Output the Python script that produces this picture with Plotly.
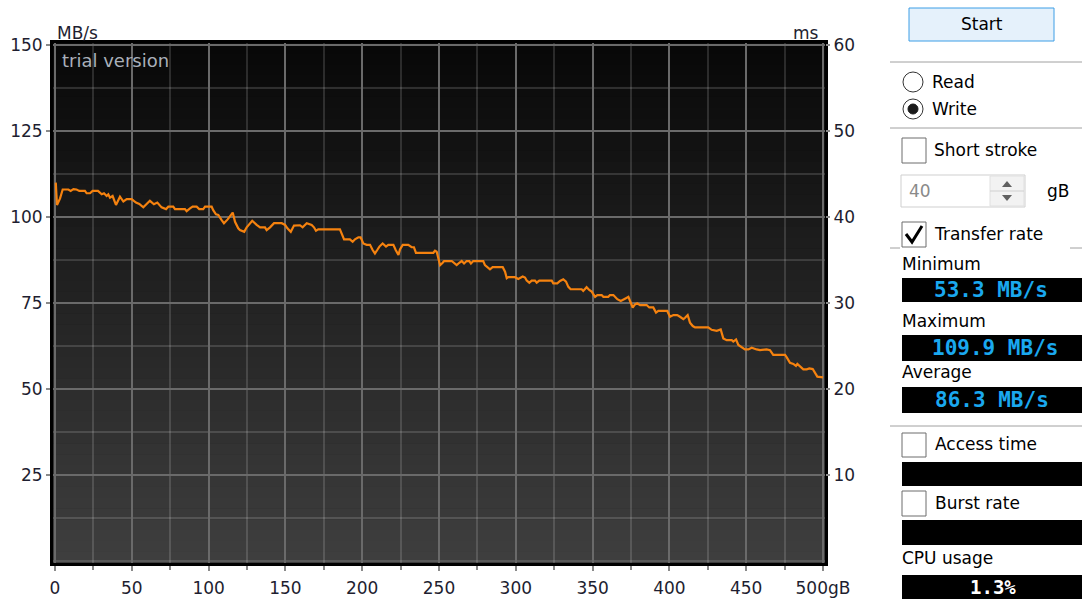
import plotly.graph_objects as go

# ---------------- data ----------------
gb = [
    0.5, 1.3, 3.3, 5.0, 8.7, 10.2, 12.0, 14.0, 15.8, 19.5,
    20.6, 22.8, 24.5, 28.0, 30.4, 31.9, 33.6, 34.7, 35.8, 37.5,
    39.7, 42.3, 44.5, 46.7, 49.9, 52.7, 54.9, 57.5, 61.8, 64.4,
    66.6, 69.4, 72.3, 73.8, 77.0, 78.1, 84.6, 85.7, 87.9, 89.6,
    92.2, 93.9, 96.5, 97.7, 102.0, 103.0, 104.8, 106.3, 108.5, 110.0,
    112.4, 113.9, 115.7, 117.2, 119.3, 120.4, 123.2, 124.8, 128.4, 131.3,
    133.5, 136.7, 137.8, 140.0, 142.6, 147.6, 149.8, 151.3, 153.5, 155.6,
    159.5, 161.2, 163.9, 167.1, 168.6, 169.9, 171.4, 185.5, 186.6, 188.2,
    192.0, 193.8, 195.3, 197.5, 199.0, 200.7, 202.9, 205.1, 206.8, 208.3,
    209.8, 211.2, 213.3, 215.5, 217.0, 220.3, 221.8, 223.6, 224.6, 226.4,
    230.0, 232.2, 233.7, 235.0, 246.3, 247.4, 248.5, 249.6, 250.7, 252.4,
    253.3, 258.3, 259.8, 261.5, 263.2, 264.8, 266.3, 268.0, 269.7, 270.8,
    272.3, 278.8, 279.9, 281.4, 283.2, 284.9, 291.5, 293.0, 294.1, 295.1,
    299.5, 301.6, 304.5, 306.0, 307.1, 308.8, 310.3, 312.5, 313.6, 315.3,
    323.4, 324.4, 327.0, 328.8, 330.9, 332.7, 334.2, 335.7, 342.9, 343.9,
    346.1, 347.8, 349.4, 351.6, 353.1, 355.9, 357.0, 360.2, 361.3, 363.5,
    365.2, 366.1, 368.3, 370.0, 371.7, 373.3, 374.8, 376.1, 377.6, 379.1,
    380.9, 385.2, 386.9, 389.5, 391.3, 392.8, 398.6, 400.4, 402.6, 405.1,
    406.9, 409.1, 410.2, 411.9, 413.4, 415.2, 416.7, 425.3, 427.5, 430.8,
    433.4, 435.1, 437.3, 440.6, 441.6, 443.4, 444.9, 447.1, 449.2, 451.4,
    453.6, 456.8, 459.0, 463.3, 465.5, 467.6, 475.3, 476.4, 478.5, 480.7,
    482.4, 483.3, 485.0, 487.2, 489.4, 491.1, 493.3, 494.8, 496.3, 500.0,
]
mbs = [
    110.0, 103.5, 105.4, 108.0, 108.0, 107.6, 108.1, 108.0, 107.6, 107.6,
    106.9, 106.9, 107.6, 107.6, 106.6, 106.9, 106.1, 106.6, 105.6, 106.1,
    103.5, 105.9, 104.5, 105.2, 105.2, 104.2, 103.8, 102.8, 104.7, 103.7,
    104.2, 102.8, 102.3, 103.0, 103.0, 102.3, 102.3, 101.7, 102.5, 103.0,
    103.0, 102.3, 102.3, 103.0, 103.0, 102.0, 100.8, 100.6, 99.1, 98.2,
    99.3, 100.1, 101.3, 98.6, 96.7, 96.2, 95.7, 97.0, 98.9, 97.7,
    97.0, 97.0, 96.2, 97.0, 98.2, 98.2, 97.7, 96.7, 95.7, 97.5,
    97.6, 97.0, 98.2, 97.7, 97.0, 96.0, 96.4, 96.4, 95.4, 93.5,
    93.5, 92.8, 93.5, 94.1, 94.1, 92.3, 91.9, 91.9, 90.4, 89.4,
    90.4, 91.4, 92.3, 91.4, 91.9, 91.9, 90.4, 89.0, 90.6, 91.9,
    91.9, 91.2, 91.2, 89.6, 89.6, 90.2, 89.9, 87.5, 86.0, 86.7,
    87.2, 87.2, 86.5, 86.0, 86.7, 87.2, 86.5, 87.2, 87.2, 86.5,
    87.2, 87.2, 86.0, 85.4, 84.8, 85.4, 85.4, 84.1, 82.2, 82.5,
    82.5, 82.0, 82.7, 82.4, 81.5, 80.9, 81.5, 81.5, 80.9, 81.5,
    81.5, 80.7, 80.7, 81.4, 81.9, 81.2, 79.7, 79.0, 79.0, 78.5,
    79.6, 78.8, 78.3, 76.8, 77.3, 77.3, 76.8, 76.8, 77.3, 77.3,
    76.6, 76.1, 75.6, 76.1, 76.4, 76.8, 75.2, 73.7, 74.6, 74.9,
    74.4, 74.4, 73.7, 73.7, 72.2, 72.7, 72.7, 71.0, 71.5, 71.5,
    71.0, 70.3, 70.7, 71.5, 69.3, 68.3, 67.9, 67.9, 67.2, 66.9,
    67.3, 64.7, 64.2, 64.2, 63.8, 64.4, 62.8, 62.0, 61.5, 61.5,
    62.0, 61.5, 61.3, 61.5, 61.3, 59.9, 59.9, 59.2, 57.6, 57.3,
    56.7, 57.3, 56.5, 55.7, 55.7, 56.0, 55.8, 54.7, 53.6, 53.4,
]

left_ticks = [25, 50, 75, 100, 125, 150]
right_ticks = [10, 20, 30, 40, 50, 60]
x_ticks = [0, 50, 100, 150, 200, 250, 300, 350, 400, 450, 500]
x_ticktext = ["0", "50", "100", "150", "200", "250", "300", "350", "400", "450", "500gB"]

stat_minimum = "53.3 MB/s"
stat_maximum = "109.9 MB/s"
stat_average = "86.3 MB/s"
stat_cpu = "1.3%"

# ---------------- geometry helpers (pixel -> paper) ----------------
W, H = 1082, 599
PL, PR, PT, PB = 53, 825, 43, 563   # plot area in pixels


def px(x):
    return (x - PL) / (PR - PL)


def py(y):
    return (PB - y) / (PB - PT)


FONT = "DejaVu Sans"
MONO = "DejaVu Sans Mono"
TICKC = "#1e1e30"

fig = go.Figure()
fig.add_trace(go.Scatter(
    x=gb, y=mbs, mode="lines",
    line=dict(color="#f5820f", width=2.2),
    hoverinfo="skip", showlegend=False,
))
# empty trace so the right-hand "ms" axis is drawn
fig.add_trace(go.Scatter(x=[], y=[], yaxis="y2", mode="lines",
                         hoverinfo="skip", showlegend=False))

shapes = []
# gradient background of the plot area
N = 48
for i in range(N):
    t = i / (N - 1)
    c = int(round(8 + t * (62 - 8)))
    shapes.append(dict(
        type="rect", xref="paper", yref="paper",
        x0=0, x1=1, y0=1 - (i + 1) / N, y1=1 - i / N + 0.001,
        fillcolor=f"rgb({c},{c},{c})", line=dict(width=0), layer="below",
    ))

annotations = []


def text(x, y, s, size=17, color="black", anchor="left", family=FONT):
    annotations.append(dict(
        x=px(x), y=py(y), xref="paper", yref="paper", text=s, showarrow=False,
        xanchor=anchor, yanchor="middle",
        font=dict(family=family, size=size, color=color),
    ))


def rect(x0, y0, x1, y1, fill, line="rgba(0,0,0,0)", lw=1):
    shapes.append(dict(
        type="rect", xref="paper", yref="paper",
        x0=px(x0), x1=px(x1), y0=py(y1), y1=py(y0),
        fillcolor=fill, line=dict(color=line, width=lw), layer="above",
    ))


def hline(x0, x1, y, color="#a0a0a0"):
    shapes.append(dict(
        type="line", xref="paper", yref="paper",
        x0=px(x0), x1=px(x1), y0=py(y), y1=py(y),
        line=dict(color=color, width=1), layer="above",
    ))


def circle(cx, cy, r, fill, line="#333333", lw=1):
    shapes.append(dict(
        type="circle", xref="paper", yref="paper",
        x0=px(cx - r), x1=px(cx + r), y0=py(cy + r), y1=py(cy - r),
        fillcolor=fill, line=dict(color=line, width=lw), layer="above",
    ))


# axis captions inside/above the plot
text(55, 33, "MB/s", size=17, color=TICKC)
text(821, 33, "ms", size=17, color=TICKC, anchor="right")
text(60, 61, "trial version", size=18, color="#a9b0ba")

# ---------------- right control panel ----------------
rect(909, 8, 1054, 41, "#e5f1fb", "#3c9ee6", 1)
text(981.5, 24, "Start", anchor="center")

hline(890, 1082, 62)
circle(913, 82, 10, "white", "#333333", 1)
text(930, 82, "Read")
circle(913, 109, 10, "white", "#333333", 1)
circle(913, 109, 5, "#1a1a1a", "#1a1a1a", 1)
text(930, 109, "Write")
hline(890, 1082, 128)

rect(902, 138, 926, 163, "white", "#6d6d6d", 1)
text(932, 150, "Short stroke")

rect(901, 175, 1025, 207, "white", "#cfcfcf", 1)
text(907, 191, "40", color="#8a8a8a")
rect(990, 176, 1024, 206, "#f2f2f2", "#e0e0e0", 1)
hline(990, 1024, 191, "#d0d0d0")
shapes.append(dict(type="path", xref="paper", yref="paper",
                   path=f"M {px(1002)} {py(187)} L {px(1012)} {py(187)} L {px(1007)} {py(181)} Z",
                   fillcolor="#606060", line=dict(width=0), layer="above"))
shapes.append(dict(type="path", xref="paper", yref="paper",
                   path=f"M {px(1002)} {py(195)} L {px(1012)} {py(195)} L {px(1007)} {py(201)} Z",
                   fillcolor="#606060", line=dict(width=0), layer="above"))
text(1045, 191, "gB")

hline(890, 900, 248)
hline(1070, 1082, 248)
rect(902, 222, 926, 247, "white", "#6d6d6d", 1)
shapes.append(dict(type="path", xref="paper", yref="paper",
                   path=f"M {px(906)} {py(234)} L {px(912)} {py(242)} L {px(922)} {py(226)}",
                   line=dict(color="black", width=3), layer="above"))
text(932, 234, "Transfer rate")

text(900, 264, "Minimum")
rect(902, 278, 1083, 302, "black")
text(991, 290, "<b>" + stat_minimum + "</b>", size=21, color="#1aa8ef", anchor="center", family=MONO)

text(900, 321, "Maximum")
rect(902, 335, 1083, 361, "black")
text(995, 348, "<b>" + stat_maximum + "</b>", size=21, color="#1aa8ef", anchor="center", family=MONO)

text(900, 372, "Average")
rect(902, 387, 1083, 413, "black")
text(992, 400, "<b>" + stat_average + "</b>", size=21, color="#1aa8ef", anchor="center", family=MONO)

hline(890, 1082, 426)
rect(902, 433, 926, 457, "white", "#6d6d6d", 1)
text(933, 444, "Access time")
rect(902, 462, 1083, 486, "black")

rect(902, 491, 926, 516, "white", "#6d6d6d", 1)
text(933, 503, "Burst rate")
rect(902, 520, 1083, 545, "black")

text(900, 558, "CPU usage")
rect(902, 575, 1083, 600, "black")
text(993, 587, "<b>" + stat_cpu + "</b>", size=19, color="white", anchor="center", family=MONO)

y_lo = (561 - PB) / 3.44
y_hi = (561 - PT) / 3.44
x_lo = (PL - 55) / 1.536
x_hi = (PR - 55) / 1.536

MAJOR = "#6a6a6a"
MINOR = "rgba(255,255,255,0.14)"

fig.update_layout(
    width=W, height=H,
    margin=dict(l=PL, r=W - PR, t=PT, b=H - PB, pad=0, autoexpand=False),
    paper_bgcolor="white", plot_bgcolor="#0a0a0a",
    showlegend=False,
    shapes=shapes, annotations=annotations,
    xaxis=dict(
        range=[x_lo, x_hi], tickmode="array", tickvals=x_ticks, ticktext=x_ticktext,
        showgrid=True, gridcolor=MAJOR, gridwidth=2, zeroline=False, automargin=False,
        ticks="outside", ticklen=5, tickwidth=2, tickcolor="#8a8a8a",
        ticklabelstandoff=3,
        minor=dict(tickmode="linear", tick0=0, dtick=25, showgrid=True, gridcolor=MINOR,
                   gridwidth=2, ticks="outside", ticklen=4, tickcolor="#8a8a8a", tickwidth=2),
        showline=True, linecolor="black", linewidth=3, mirror=True,
        tickfont=dict(family=FONT, size=17, color=TICKC), fixedrange=True,
    ),
    yaxis=dict(
        range=[y_lo, y_hi], tickmode="array", tickvals=left_ticks,
        showgrid=True, gridcolor=MAJOR, gridwidth=2, zeroline=False, automargin=False,
        ticks="outside", ticklen=4, tickwidth=2, tickcolor="#8a8a8a",
        minor=dict(tickmode="linear", tick0=0, dtick=12.5, showgrid=True, gridcolor=MINOR,
                   gridwidth=2, ticks=""),
        showline=True, linecolor="black", linewidth=3, mirror=True,
        tickfont=dict(family=FONT, size=17, color=TICKC), fixedrange=True,
    ),
    yaxis2=dict(
        overlaying="y", side="right", range=[y_lo / 2.5, y_hi / 2.5], automargin=False,
        tickmode="array", tickvals=right_ticks, showgrid=False, zeroline=False,
        ticks="outside", ticklen=4, tickwidth=2, tickcolor="#8a8a8a",
        tickfont=dict(family=FONT, size=17, color=TICKC), fixedrange=True,
    ),
)

fig.write_html("out.html", config=dict(displayModeBar=False),
               post_script="document.body.style.margin='0';document.body.style.overflow='hidden';")
